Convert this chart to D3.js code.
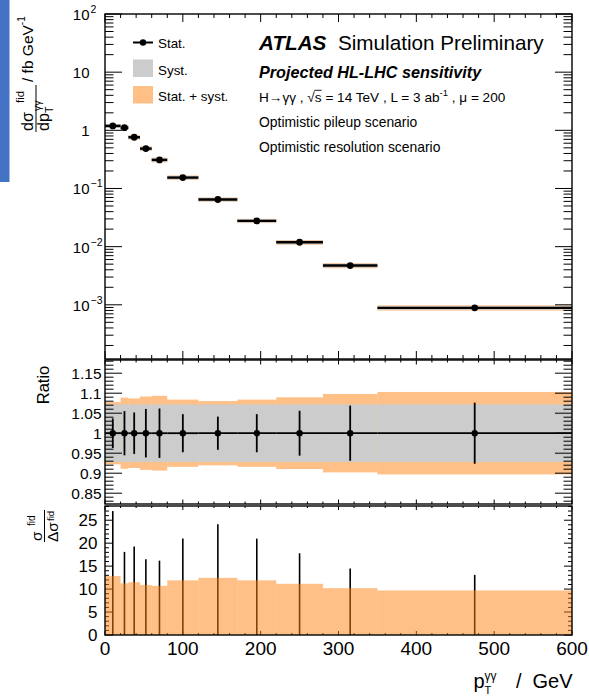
<!DOCTYPE html>
<html>
<head>
<meta charset="utf-8">
<script src="https://cdn.jsdelivr.net/npm/d3@7"></script>
<style>
  html, body { margin: 0; padding: 0; background: #fff; }
  svg { display: block; font-family: "Liberation Sans", Arial, Helvetica, sans-serif; }
  text { white-space: pre; }
</style>
</head>
<body>
<svg id="chart" width="589" height="697"></svg>
<script>
// ---- data: fiducial diphoton pT spectrum, HL-LHC projection ----
const binEdges = [0, 20, 30, 45, 60, 80, 120, 170, 220, 280, 350, 600];
const crossSection = [1.19, 1.11, 0.76, 0.485, 0.31, 0.154, 0.0646, 0.0277, 0.0119, 0.00473, 0.000887]; // fb/GeV
const statSignificance = [27.0, 18.1, 19.3, 16.5, 16.2, 21.0, 24.1, 21.0, 17.8, 14.5, 13.1];
const totalSignificance = [12.85, 11.25, 11.5, 10.9, 10.7, 11.9, 12.45, 11.9, 11.15, 10.2, 9.7];
const systRelative = [0.072, 0.072, 0.072, 0.072, 0.072, 0.072, 0.072, 0.072, 0.072, 0.072, 0.072];

const xTickValues = [0, 100, 200, 300, 400, 500, 600];
const xTickLabels = ["0", "100", "200", "300", "400", "500", "600"];
const logTickValues = [1e-3, 1e-2, 1e-1, 1, 10, 100];
const logTickLabels = [["10", "\u22123"], ["10", "\u22122"], ["10", "\u22121"], ["1", ""], ["10", ""], ["10", "2"]];
const ratioTickValues = [0.85, 0.9, 0.95, 1, 1.05, 1.1, 1.15];
const ratioTickLabels = ["0.85", "0.9", "0.95", "1", "1.05", "1.1", "1.15"];
const signifTickValues = [0, 5, 10, 15, 20, 25];
const signifTickLabels = ["0", "5", "10", "15", "20", "25"];
const legendLabels = ["Stat.", "Syst.", "Stat. + syst."];

// ---- styling ----
const ORANGE = "rgb(253,129,13)";
const ORANGE_ALPHA = 0.5;
const GREY = "#cccccc";

const svg = d3.select("#chart");

// pad geometry
const X0 = 105, X1 = 572;
const TOP = { y0: 14, y1: 359 };
const MID = { y0: 360, y1: 504 };
const BOT = { y0: 506, y1: 635 };

const x = d3.scaleLinear().domain([0, 600]).range([X0, X1]);
const yMain = d3.scaleLog().domain([1.17e-4, 100]).range([TOP.y1, TOP.y0]);
const yRatio = d3.scaleLinear().domain([0.823, 1.183]).range([MID.y1, MID.y0]);
const ySig = d3.scaleLinear().domain([0, 28.1]).range([BOT.y1, BOT.y0]);

const bins = binEdges.slice(0, -1).map((lo, i) => ({
  lo, hi: binEdges[i + 1], c: (lo + binEdges[i + 1]) / 2,
  v: crossSection[i],
  stat: 1 / statSignificance[i],
  tot: 1 / totalSignificance[i],
  syst: systRelative[i],
  sSig: statSignificance[i],
  tSig: totalSignificance[i]
}));

// writes a sequence of text runs one after another, measuring each run
function runText(parent, x0, y0, parts, opts = {}) {
  let cx = x0;
  const base = opts.size || 14;
  parts.forEach(p => {
    const size = p.size || base;
    const t = parent.append("text")
      .attr("x", cx).attr("y", y0 + (p.dy || 0))
      .style("font-size", size + "px")
      .text(p.t);
    if (p.weight || opts.weight) t.style("font-weight", p.weight || opts.weight);
    if (p.italic || opts.italic) t.style("font-style", "italic");
    const w = t.node().getComputedTextLength();
    if (p.over) {
      parent.append("line")
        .attr("x1", cx - 0.5).attr("x2", cx + w)
        .attr("y1", y0 - size * 0.86).attr("y2", y0 - size * 0.86)
        .attr("stroke", "#000").attr("stroke-width", 0.9);
    }
    cx += w + (p.gap || 0);
  });
  return cx;
}

function frame(g, pad) {
  g.append("rect")
    .attr("x", X0).attr("y", pad.y0)
    .attr("width", X1 - X0).attr("height", pad.y1 - pad.y0)
    .attr("fill", "none").attr("stroke", "#000").attr("stroke-width", 1.4);
}

function xTicks(g, pad, majorLen, minorLen) {
  const minor = d3.range(0, 601, 20).filter(v => v % 100 !== 0);
  const lines = [];
  xTickValues.forEach(v => lines.push([v, majorLen]));
  minor.forEach(v => lines.push([v, minorLen]));
  lines.forEach(([v, len]) => {
    g.append("line").attr("x1", x(v)).attr("x2", x(v))
      .attr("y1", pad.y1).attr("y2", pad.y1 - len)
      .attr("stroke", "#000").attr("stroke-width", 1);
    g.append("line").attr("x1", x(v)).attr("x2", x(v))
      .attr("y1", pad.y0).attr("y2", pad.y0 + len)
      .attr("stroke", "#000").attr("stroke-width", 1);
  });
}

function yTicks(g, scale, majors, minors, majorLen, minorLen) {
  const lines = majors.map(v => [v, majorLen]).concat(minors.map(v => [v, minorLen]));
  lines.forEach(([v, len]) => {
    const yy = scale(v);
    g.append("line").attr("x1", X0).attr("x2", X0 + len).attr("y1", yy).attr("y2", yy)
      .attr("stroke", "#000").attr("stroke-width", 1);
    g.append("line").attr("x1", X1).attr("x2", X1 - len).attr("y1", yy).attr("y2", yy)
      .attr("stroke", "#000").attr("stroke-width", 1);
  });
}

// side marker
svg.append("rect").attr("x", 0).attr("y", 0).attr("width", 9.5).attr("height", 182).attr("fill", "#4472c4");

// ================= top pad: differential cross section =================
const gTop = svg.append("g");
gTop.selectAll("rect.tot").data(bins).join("rect").attr("class", "tot")
  .attr("x", d => x(d.lo)).attr("width", d => x(d.hi) - x(d.lo))
  .attr("y", d => yMain(d.v * (1 + d.tot)))
  .attr("height", d => yMain(d.v * (1 - d.tot)) - yMain(d.v * (1 + d.tot)))
  .attr("fill", ORANGE).attr("fill-opacity", ORANGE_ALPHA);
gTop.selectAll("rect.sys").data(bins).join("rect").attr("class", "sys")
  .attr("x", d => x(d.lo)).attr("width", d => x(d.hi) - x(d.lo))
  .attr("y", d => yMain(d.v * (1 + d.syst)))
  .attr("height", d => yMain(d.v * (1 - d.syst)) - yMain(d.v * (1 + d.syst)))
  .attr("fill", GREY);
gTop.selectAll("line.xerr").data(bins).join("line").attr("class", "xerr")
  .attr("x1", d => x(d.lo)).attr("x2", d => x(d.hi))
  .attr("y1", d => yMain(d.v)).attr("y2", d => yMain(d.v))
  .attr("stroke", "#000").attr("stroke-width", 2.4);
gTop.selectAll("line.yerr").data(bins).join("line").attr("class", "yerr")
  .attr("x1", d => x(d.c)).attr("x2", d => x(d.c))
  .attr("y1", d => yMain(d.v * (1 + d.stat))).attr("y2", d => yMain(d.v * (1 - d.stat)))
  .attr("stroke", "#000").attr("stroke-width", 2);
gTop.selectAll("circle").data(bins).join("circle")
  .attr("cx", d => x(d.c)).attr("cy", d => yMain(d.v)).attr("r", 3.4).attr("fill", "#000");

const logMinors = [];
for (let e = -4; e <= 1; e++) for (let m = 2; m <= 9; m++) {
  const v = m * Math.pow(10, e);
  if (v > yMain.domain()[0] && v < yMain.domain()[1]) logMinors.push(v);
}
yTicks(gTop, yMain, logTickValues, logMinors, 17, 8.5);
xTicks(gTop, TOP, 8, 4);
frame(gTop, TOP);

logTickValues.forEach((v, i) => {
  const [b, e] = logTickLabels[i];
  const yy = yMain(v) + 6;
  gTop.append("text").attr("x", 89.5).attr("y", yy).attr("text-anchor", "end")
    .style("font-size", "15px").text(b);
  if (e) gTop.append("text").attr("x", 90.5).attr("y", yy - 7)
    .style("font-size", "10.5px").text(e);
});

// legend
const lg = svg.append("g");
lg.append("line").attr("x1", 133).attr("x2", 153).attr("y1", 42.5).attr("y2", 42.5)
  .attr("stroke", "#000").attr("stroke-width", 2);
lg.append("circle").attr("cx", 143).attr("cy", 42.5).attr("r", 3.2).attr("fill", "#000");
lg.append("rect").attr("x", 133).attr("y", 59.5).attr("width", 20).attr("height", 17.5).attr("fill", GREY);
lg.append("rect").attr("x", 133).attr("y", 86).attr("width", 20).attr("height", 17.5)
  .attr("fill", ORANGE).attr("fill-opacity", ORANGE_ALPHA);
[47.5, 74.5, 101].forEach((yy, i) => {
  lg.append("text").attr("x", 158).attr("y", yy).style("font-size", "13.4px").text(legendLabels[i]);
});

// annotations
const ann = svg.append("g");
runText(ann, 259, 49.5, [
  { t: "ATLAS", weight: "bold", italic: true },
  { t: "  Simulation Preliminary" }
], { size: 20.7 });
runText(ann, 259, 77.5, [{ t: "Projected HL-LHC sensitivity" }], { size: 16.2, weight: "bold", italic: true });
runText(ann, 259, 102, [
  { t: "H\u2192\u03b3\u03b3 , " },
  { t: "\u221a" },
  { t: "s", over: true },
  { t: " = 14 TeV , L = 3 ab" },
  { t: "-1", size: 9.5, dy: -6 },
  { t: " , \u03bc = 200" }
], { size: 13.6 });
runText(ann, 259, 127, [{ t: "Optimistic pileup scenario" }], { size: 13.9 });
runText(ann, 259, 152, [{ t: "Optimistic resolution scenario" }], { size: 13.9 });

// top y title: dsigma/dpT / fb GeV^-1
const ttl = svg.append("g").attr("transform", "translate(36,132) rotate(-90)");
ttl.append("line").attr("x1", 0).attr("x2", 47).attr("y1", 0).attr("y2", 0).attr("stroke", "#000").attr("stroke-width", 1);
runText(ttl, 1, -3, [{ t: "d\u03c3" }], { size: 16 });
runText(ttl, 29, -12, [{ t: "fid" }], { size: 11.5 });
runText(ttl, 1, 13, [{ t: "dp" }], { size: 16 });
runText(ttl, 19, 17, [{ t: "T" }], { size: 10.5 });
runText(ttl, 21, 4.5, [{ t: "\u03b3\u03b3" }], { size: 10.5 });
runText(ttl, 50, -3, [{ t: "/ fb GeV" }, { t: "-1", size: 10, dy: -8 }], { size: 15.5 });

// ================= ratio pad =================
const gMid = svg.append("g");
gMid.selectAll("rect.tot").data(bins).join("rect").attr("class", "tot")
  .attr("x", d => x(d.lo)).attr("width", d => x(d.hi) - x(d.lo))
  .attr("y", d => yRatio(1 + d.tot)).attr("height", d => yRatio(1 - d.tot) - yRatio(1 + d.tot))
  .attr("fill", ORANGE).attr("fill-opacity", ORANGE_ALPHA);
gMid.selectAll("rect.sys").data(bins).join("rect").attr("class", "sys")
  .attr("x", d => x(d.lo)).attr("width", d => x(d.hi) - x(d.lo))
  .attr("y", d => yRatio(1 + d.syst)).attr("height", d => yRatio(1 - d.syst) - yRatio(1 + d.syst))
  .attr("fill", GREY);
gMid.selectAll("line.xerr").data(bins).join("line").attr("class", "xerr")
  .attr("x1", d => x(d.lo)).attr("x2", d => x(d.hi))
  .attr("y1", yRatio(1)).attr("y2", yRatio(1))
  .attr("stroke", "#000").attr("stroke-width", 1.8);
gMid.selectAll("line.yerr").data(bins).join("line").attr("class", "yerr")
  .attr("x1", d => x(d.c)).attr("x2", d => x(d.c))
  .attr("y1", d => yRatio(1 + d.stat)).attr("y2", d => yRatio(1 - d.stat))
  .attr("stroke", "#000").attr("stroke-width", 1.8);
gMid.selectAll("circle").data(bins).join("circle")
  .attr("cx", d => x(d.c)).attr("cy", yRatio(1)).attr("r", 3.2).attr("fill", "#000");

const ratioMinors = d3.range(83, 119).map(v => v / 100).filter(v => Math.round(v * 100) % 5 !== 0);
yTicks(gMid, yRatio, ratioTickValues, ratioMinors, 17, 8.5);
xTicks(gMid, MID, 4.5, 2.5);
frame(gMid, MID);
ratioTickValues.forEach((v, i) => {
  gMid.append("text").attr("x", 101.5).attr("y", yRatio(v) + 5.5).attr("text-anchor", "end")
    .style("font-size", "15.5px").text(ratioTickLabels[i]);
});
svg.append("text").attr("transform", "translate(48.5,385) rotate(-90)")
  .attr("text-anchor", "middle").style("font-size", "16.5px").text("Ratio");

// ================= significance pad =================
const gBot = svg.append("g");
gBot.selectAll("line.stat").data(bins).join("line").attr("class", "stat")
  .attr("x1", d => x(d.c)).attr("x2", d => x(d.c))
  .attr("y1", ySig(0)).attr("y2", d => ySig(d.sSig))
  .attr("stroke", "#000").attr("stroke-width", 1.6);
const sigMinors = d3.range(1, 29).filter(v => v % 5 !== 0);
yTicks(gBot, ySig, signifTickValues, sigMinors, 8, 4);
xTicks(gBot, BOT, 4, 2);
gBot.selectAll("rect.tot").data(bins).join("rect").attr("class", "tot")
  .attr("x", d => x(d.lo)).attr("width", d => x(d.hi) - x(d.lo))
  .attr("y", d => ySig(d.tSig)).attr("height", d => ySig(0) - ySig(d.tSig))
  .attr("fill", ORANGE).attr("fill-opacity", ORANGE_ALPHA);
frame(gBot, BOT);
signifTickValues.forEach((v, i) => {
  gBot.append("text").attr("x", 97.5).attr("y", ySig(v) + 6).attr("text-anchor", "end")
    .style("font-size", "17px").text(signifTickLabels[i]);
});
xTickValues.forEach((v, i) => {
  gBot.append("text").attr("x", x(v)).attr("y", 655).attr("text-anchor", "middle")
    .style("font-size", "19px").text(xTickLabels[i]);
});

// significance title: sigma / delta sigma
const st = svg.append("g").attr("transform", "translate(44.5,542) rotate(-90)");
st.append("line").attr("x1", 0).attr("x2", 32).attr("y1", 0).attr("y2", 0).attr("stroke", "#000").attr("stroke-width", 1);
runText(st, 1, -2.5, [{ t: "\u03c3" }], { size: 15.5 });
runText(st, 16, -9.5, [{ t: "fid" }], { size: 10 });
runText(st, 0, 13, [{ t: "\u0394\u03c3" }], { size: 15.5 });
runText(st, 21, 9.5, [{ t: "fid" }], { size: 9.5 });

// x title
svg.append("text").attr("x", 473.5).attr("y", 688).style("font-size", "20px").text("p");
svg.append("text").attr("x", 484.5).attr("y", 694).style("font-size", "11px").text("T");
svg.append("text").attr("x", 484.5).attr("y", 680).style("font-size", "12px").text("\u03b3\u03b3");
svg.append("text").attr("x", 516).attr("y", 688).style("font-size", "20px").text("/");
svg.append("text").attr("x", 572.5).attr("y", 688).attr("text-anchor", "end").style("font-size", "20px").text("GeV");
</script>
</body>
</html>
